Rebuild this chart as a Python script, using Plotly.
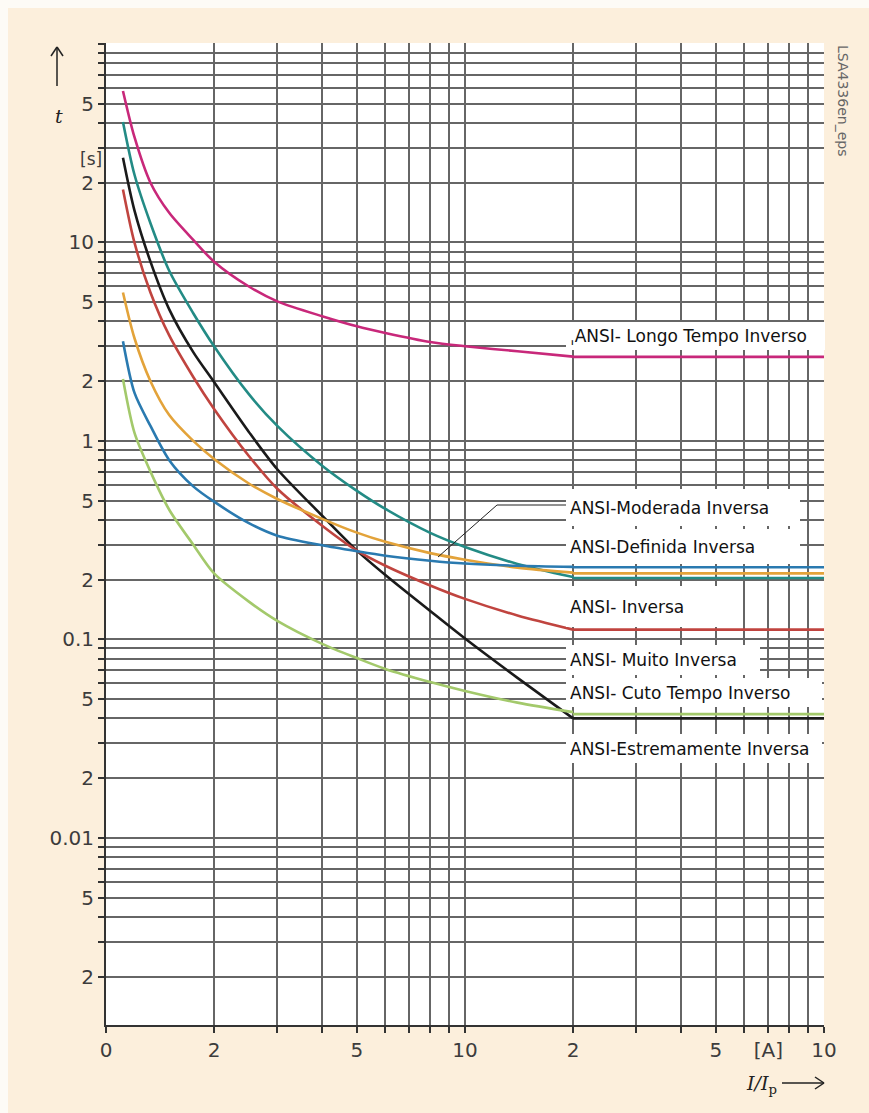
import plotly.graph_objects as go

# ---------------- data ----------------
X_CURVE = [1.115, 1.2, 1.33, 1.5, 1.75, 2, 2.5, 3, 4, 5, 6, 8, 10, 14, 20]
X_PLATEAU = [20, 100]

T_LONGO    = [58, 34, 20, 14.1, 10.3, 8.0, 6.0, 5.05, 4.25, 3.78, 3.5, 3.15, 3.0, 2.83, 2.66]
T_INVERSA  = [40.5, 22, 12.5, 7.2, 4.4, 3.0, 1.72, 1.19, 0.75, 0.56, 0.454, 0.344, 0.292, 0.24, 0.206]
T_EXTREMA  = [26.7, 14.5, 8.0, 4.6, 2.8, 1.98, 1.11, 0.72, 0.42, 0.28, 0.211, 0.139, 0.101, 0.064, 0.040]
T_MUITO    = [18.5, 10, 5.6, 3.4, 2.1, 1.45, 0.84, 0.574, 0.374, 0.28, 0.235, 0.187, 0.16, 0.132, 0.112]
T_MODERADA = [5.6, 3.3, 2.0, 1.35, 1.0, 0.81, 0.61, 0.51, 0.405, 0.345, 0.31, 0.272, 0.252, 0.23, 0.217]
T_DEFINIDA = [3.18, 1.75, 1.19, 0.8, 0.59, 0.494, 0.385, 0.333, 0.298, 0.278, 0.264, 0.249, 0.241, 0.235, 0.232]
T_CURTO    = [2.05, 1.1, 0.7, 0.45, 0.3, 0.215, 0.155, 0.124, 0.095, 0.0805, 0.071, 0.061, 0.055, 0.048, 0.043]

PLATEAU = [2.65, 0.204, 0.040, 0.112, 0.215, 0.231, 0.042]

CURVE_NAMES = ["Longo Tempo Inverso", "Inversa", "Extremamente Inversa", "Muito Inversa",
               "Moderada Inversa", "Definida Inversa", "Curto Tempo Inverso"]
CURVE_VALUES = [T_LONGO, T_INVERSA, T_EXTREMA, T_MUITO, T_MODERADA, T_DEFINIDA, T_CURTO]
CURVE_COLORS = ["#c8287a", "#238b85", "#1a1a1a", "#c0443f", "#e3a33a", "#2a7ab0", "#a3c96b"]

X_TICKVALS = [1, 2, 3, 4, 5, 6, 7, 8, 9, 10, 20, 30, 40, 50, 60, 70, 80, 90, 100]
X_TICKTEXT = ["0", "2", "", "", "5", "", "", "", "", "10", "2", "", "", "5", "", "[A]", "", "", "10"]

Y_TICKVALS = ([m * 0.001 for m in range(2, 10)] + [m * 0.01 for m in range(1, 10)] +
              [m * 0.1 for m in range(1, 10)] + [m * 1 for m in range(1, 10)] +
              [m * 10 for m in range(1, 10)] + [100])
Y_LABELS = {0.002: "2", 0.005: "5", 0.01: "0.01", 0.02: "2", 0.05: "5", 0.1: "0.1",
            0.2: "2", 0.5: "5", 1: "1", 2: "2", 5: "5", 10: "10", 20: "2", 50: "5"}
Y_TICKTEXT = []
for v in Y_TICKVALS:
    lab = ""
    for k, s in Y_LABELS.items():
        if abs(v - k) < k * 1e-6:
            lab = s
    Y_TICKTEXT.append(lab)

LABELS = ["\u02ccANSI- Longo Tempo Inverso", "ANSI-Moderada Inversa", "ANSI-Definida Inversa",
          "ANSI- Inversa", "ANSI- Muito Inversa", "ANSI- Cuto Tempo Inverso",
          "ANSI-Estremamente Inversa"]

# ---------------- figure ----------------
W, H = 869, 1113
L, R, T, B = 106, 45, 43, 88
PW, PH = W - L - R, H - T - B


def px(xp):
    return (xp - L) / PW


def py(yp):
    return (H - B - yp) / PH


fig = go.Figure()
for name, vals, plat, col in zip(CURVE_NAMES, CURVE_VALUES, PLATEAU, CURVE_COLORS):
    fig.add_trace(go.Scatter(x=X_CURVE, y=vals, mode="lines", name=name,
                             line=dict(color=col, width=2.6, shape="spline", smoothing=0.8),
                             showlegend=False))
    fig.add_trace(go.Scatter(x=X_PLATEAU, y=[plat, plat], mode="lines", name=name,
                             line=dict(color=col, width=2.6), showlegend=False))

grid_col = "#666666"
axis_common = dict(type="log", showgrid=True, gridcolor=grid_col, gridwidth=1.6,
                   ticks="outside", ticklen=6, tickcolor="#333", tickwidth=1.5,
                   showline=True, linecolor="#333", linewidth=2, zeroline=False,
                   tickfont=dict(family="DejaVu Sans", size=20, color="#3c3c3c"))
fig.update_xaxes(range=[0, 2], tickvals=X_TICKVALS, ticktext=X_TICKTEXT, **axis_common)
fig.update_yaxes(range=[-2.943, 2.005], tickvals=Y_TICKVALS, ticktext=Y_TICKTEXT, **axis_common)

annots = []
# white label panels (left, right, top, bottom in page pixels) hiding the grid behind the names
panels = [(566, 825, 322, 350), (566, 800, 489, 526), (566, 800, 529, 564), (566, 738, 586, 627),
          (566, 760, 645, 675), (566, 822, 678, 707), (566, 822, 734, 763)]
PAD = 4
for txt, (x0, x1, y0, y1) in zip(LABELS, panels):
    annots.append(dict(xref="paper", yref="paper", x=px(x0), y=py(y0), text=txt,
                       showarrow=False, xanchor="left", yanchor="top",
                       width=x1 - x0 - 2 * PAD, height=y1 - y0 - 2 * PAD,
                       align="left", valign="middle", bgcolor="white",
                       borderpad=PAD, borderwidth=0,
                       font=dict(family="DejaVu Sans", size=17, color="#111")))

# axis captions
annots.append(dict(xref="paper", yref="paper", x=px(53), y=py(103), text="<i>t</i>",
                   showarrow=False, font=dict(family="DejaVu Serif", size=19, color="#222")))
annots.append(dict(xref="paper", yref="paper", x=px(78), y=py(147), text="[s]",
                   showarrow=False, font=dict(family="DejaVu Sans", size=17, color="#3c3c3c")))
annots.append(dict(xref="paper", yref="paper", x=px(779), y=py(1084), text="<i>I/I</i><sub>p</sub>",
                   showarrow=False, xanchor="right", yanchor="middle",
                   font=dict(family="DejaVu Serif", size=19, color="#222")))
annots.append(dict(xref="paper", yref="paper", x=px(843), y=py(100), text="LSA4336en_eps",
                   showarrow=False, textangle=90, xanchor="center", yanchor="middle",
                   font=dict(family="DejaVu Sans", size=14, color="#666")))

shapes = []
# background paper edges (light strip at top and left)
shapes.append(dict(type="rect", xref="paper", yref="paper", x0=px(0), x1=px(W), y0=py(8), y1=py(0),
                   fillcolor="#fdfbf6", line=dict(width=0), layer="above"))
shapes.append(dict(type="rect", xref="paper", yref="paper", x0=px(0), x1=px(8), y0=py(H), y1=py(0),
                   fillcolor="#fdfbf6", line=dict(width=0), layer="above"))
# y-axis arrow
arrow_line = dict(color="#222", width=1.5)
shapes.append(dict(type="line", xref="paper", yref="paper", x0=px(57), x1=px(57), y0=py(86), y1=py(47), line=arrow_line))
shapes.append(dict(type="line", xref="paper", yref="paper", x0=px(57), x1=px(51), y0=py(47), y1=py(56), line=arrow_line))
shapes.append(dict(type="line", xref="paper", yref="paper", x0=px(57), x1=px(63), y0=py(47), y1=py(56), line=arrow_line))
# x-axis arrow
shapes.append(dict(type="line", xref="paper", yref="paper", x0=px(782), x1=px(824), y0=py(1083), y1=py(1083), line=arrow_line))
shapes.append(dict(type="line", xref="paper", yref="paper", x0=px(824), x1=px(815), y0=py(1083), y1=py(1077), line=arrow_line))
shapes.append(dict(type="line", xref="paper", yref="paper", x0=px(824), x1=px(815), y0=py(1083), y1=py(1089), line=arrow_line))
# leader line for "Moderada Inversa"
lead = dict(color="#222", width=1)
shapes.append(dict(type="line", xref="paper", yref="paper", x0=px(497), x1=px(568), y0=py(505), y1=py(505), line=lead))
shapes.append(dict(type="line", xref="paper", yref="paper", x0=px(497), x1=px(438), y0=py(505), y1=py(557), line=lead))

fig.update_layout(width=W, height=H, autosize=False,
                  margin=dict(l=L, r=R, t=T, b=B, pad=0),
                  paper_bgcolor="#fcefdc", plot_bgcolor="white",
                  annotations=annots, shapes=shapes, showlegend=False)

fig.write_html("out.html")
